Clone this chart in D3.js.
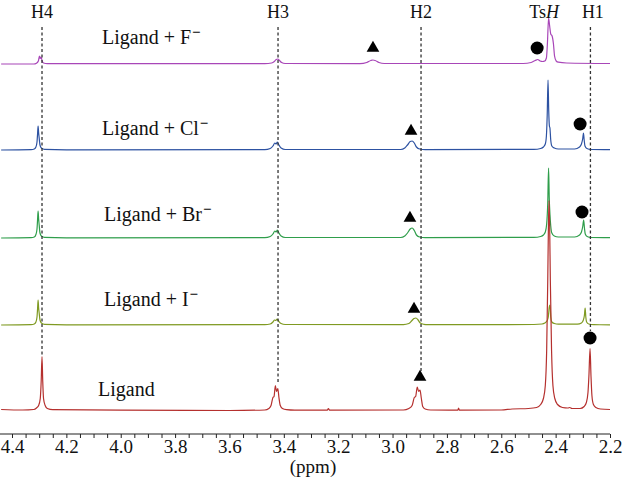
<!DOCTYPE html>
<html><head><meta charset="utf-8">
<script src="https://cdn.jsdelivr.net/npm/d3@7"></script>
<style>
body{margin:0;background:#fff}
svg{display:block;font-family:"Liberation Serif","Times New Roman",serif}
</style>
</head><body>
<svg id="c" width="626" height="479"></svg>
<script>
// ---------- data ----------
const seriesNames = ["Ligand + F", "Ligand + Cl", "Ligand + Br", "Ligand + I", "Ligand"];
const seriesCharge = [true, true, true, true, false];
const seriesColors = ["#a846b8", "#2d52a2", "#2f9e4b", "#7f9a22", "#b5302e"];

// [ppm, intensity (a.u.)]
const specF = [[4.44,0],[4.32,0],[4.31,0.8],[4.303,3],[4.299,8],[4.296,5.5],[4.293,7],[4.289,3],[4.284,1],[4.27,0.3],
 [3.47,0.3],[3.445,1],[3.435,2.5],[3.428,4.5],[3.422,5],[3.416,3.5],[3.408,1.5],[3.395,0.5],
 [3.12,0.3],[3.095,1.5],[3.08,3.5],[3.072,4],[3.064,3.5],[3.05,1.5],[3.03,0.5],
 [2.52,0.5],[2.49,1.5],[2.475,3.5],[2.466,4.5],[2.457,3],[2.448,2.5],[2.44,3],[2.434,6],[2.430,22],[2.426,46],[2.422,38],
 [2.418,30],[2.413,28],[2.408,20],[2.404,8],[2.398,3],[2.39,1.8],[2.36,1],[2.2,0.5]];
const specCl = [[4.44,0],[4.33,0.3],[4.318,1],[4.312,3],[4.308,8],[4.306,16],[4.304,24],[4.302,17],[4.300,12],[4.297,5],[4.292,2],[4.28,0.6],[4.2,0.2],
 [3.47,0.3],[3.45,1.5],[3.44,4],[3.433,7],[3.428,6],[3.424,8],[3.418,5],[3.41,2],[3.395,0.5],
 [2.97,0.5],[2.955,2],[2.945,5],[2.935,8.5],[2.928,9],[2.92,7],[2.912,3],[2.9,1],[2.88,0.4],
 [2.48,0.6],[2.455,1.5],[2.445,3],[2.438,6],[2.434,14],[2.431,35],[2.428,70],[2.4255,40],[2.423,24],[2.421,22],[2.418,10],[2.414,4],[2.405,2],[2.39,1],
 [2.33,1],[2.312,3],[2.305,6],[2.300,12],[2.2976,17],[2.295,10],[2.292,4],[2.285,1.5],[2.27,0.5],[2.2,0.3]];
const specBr = [[4.44,0],[4.33,0.3],[4.318,1],[4.312,3.5],[4.308,9],[4.306,18],[4.304,27],[4.302,19],[4.300,13],[4.297,5],[4.292,2],[4.28,0.6],[4.2,0.2],
 [3.47,0.3],[3.45,1.5],[3.44,4],[3.433,7],[3.428,6],[3.424,8],[3.418,5],[3.41,2],[3.395,0.5],
 [2.97,0.5],[2.955,2],[2.945,5],[2.935,9],[2.928,10],[2.92,7.5],[2.912,3],[2.9,1],[2.88,0.4],
 [2.48,0.6],[2.455,1.5],[2.445,3],[2.438,6],[2.433,14],[2.429,35],[2.426,70],[2.4235,40],[2.421,24],[2.418,12],[2.414,5],[2.405,2],[2.39,1],
 [2.33,1],[2.312,3],[2.305,6],[2.300,12],[2.297,18],[2.294,10],[2.291,4],[2.284,1.5],[2.27,0.5],[2.2,0.3]];
const specI = [[4.44,0],[4.33,0.3],[4.318,1],[4.312,3],[4.308,8],[4.306,16],[4.304,25],[4.302,17],[4.300,12],[4.297,5],[4.292,2],[4.28,0.6],[4.2,0.2],
 [3.47,0.3],[3.45,1],[3.44,3],[3.434,5],[3.429,4.5],[3.425,6],[3.418,3.5],[3.41,1.5],[3.395,0.5],
 [2.96,0.4],[2.94,1.5],[2.93,4],[2.921,6.5],[2.914,7],[2.906,5],[2.898,2],[2.885,0.7],[2.87,0.3],
 [2.48,0.5],[2.45,1],[2.44,2],[2.432,4],[2.427,8],[2.4235,18],[2.4206,20],[2.418,8],[2.414,3],[2.405,1.5],[2.39,0.8],
 [2.32,0.8],[2.305,2],[2.298,5],[2.294,10],[2.2915,17],[2.289,8],[2.286,3],[2.278,1],[2.26,0.3],[2.2,0.2]];
const specLigand = [[4.44,1],[4.36,0.5],[4.32,1],[4.31,2.5],[4.302,5],[4.296,12],[4.2925,30],[4.2896,54],[4.287,30],[4.284,12],[4.278,5],[4.27,2],[4.25,0.8],[4.0,0.3],[3.6,0],
 [3.47,0.5],[3.455,2],[3.447,5],[3.440,13],[3.436,14],[3.431,25],[3.427,19],[3.422,22],[3.418,13],[3.413,5],[3.405,2],[3.39,0.8],[3.36,0.3],
 [3.24,0.3],[3.236,2],[3.232,0.3],
 [2.96,0.5],[2.94,2],[2.928,5],[2.920,13],[2.915,14],[2.909,23.5],[2.904,19],[2.899,20.5],[2.894,12],[2.889,4],[2.88,1.5],[2.86,0.5],
 [2.76,0.3],[2.757,2.5],[2.754,0.3],[2.6,0.5],[2.56,1.5],[2.5,2],
 [2.47,3],[2.455,6],[2.445,12],[2.438,25],[2.433,60],[2.429,130],[2.4265,185],[2.4243,210],[2.422,185],[2.4195,130],[2.415,60],[2.41,25],[2.403,12],[2.393,6],[2.375,3],
 [2.355,2.5],[2.348,3],[2.34,2],[2.31,2],[2.295,4],[2.287,8],[2.281,18],[2.2775,35],[2.2734,62],[2.270,35],[2.2665,15],[2.261,6],[2.252,3],[2.235,1.5],[2.2,1]];
const spectra = [specF, specCl, specBr, specI, specLigand];

// assignment guides
const guideLabels = ["H4", "H3", "H2", "H1"];
const guidePpm = [4.2896, 3.4213, 2.8952, 2.2720];
const guideLabelPpm = [4.2896, 3.4213, 2.8952, 2.2630];
const guideEndIntensity = [53.5, 28.5, 39.5, 79.5]; // on the Ligand trace
const tsHLabelPpm = 2.4427;

// peak markers: series index, type, ppm, height above that baseline (a.u.)
const markerSeries = [0, 0, 1, 1, 2, 2, 3, 4, 4];
const markerType   = ["tri","dot","tri","dot","tri","dot","tri","tri","dot"];
const markerPpm    = [3.072, 2.468, 2.932, 2.310, 2.936, 2.303, 2.921, 2.899, 2.2734];
const markerHeight = [16, 16, 19, 26, 20, 26, 16, 33.5, 72.5];

const tickValues = [4.4, 4.2, 4.0, 3.8, 3.6, 3.4, 3.2, 3.0, 2.8, 2.6, 2.4, 2.2];
const tickLabels = ["4.4","4.2","4.0","3.8","3.6","3.4","3.2","3.0","2.8","2.6","2.4","2.2"];
const axisTitle = "(ppm)";

// ---------- layout ----------
const W = 626, H = 479;
const baselines = [64, 150, 238, 325, 410.5];
const labelPos = [[102, 44], [102, 135], [104, 221], [104, 306], [98, 396]];
const axisY = 434;

const svg = d3.select("#c");
const x = d3.scaleLinear().domain([4.4, 2.2]).range([12, 610]);
const yUnit = d3.scaleLinear().domain([0, 100]).range([0, -100]);

// spectra
spectra.forEach((spec, i) => {
  const line = d3.line()
    .x(d => x(d[0]))
    .y(d => baselines[i] + yUnit(d[1]))
    .curve(d3.curveMonotoneX);
  svg.append("path").datum(spec)
    .attr("d", line)
    .attr("fill", "none")
    .attr("stroke", seriesColors[i])
    .attr("stroke-width", 1.2)
    .attr("stroke-linejoin", "round");
});

// guides
guidePpm.forEach((p, i) => {
  svg.append("line")
    .attr("x1", x(p)).attr("x2", x(p))
    .attr("y1", 27).attr("y2", baselines[4] + yUnit(guideEndIntensity[i]))
    .attr("stroke", "#333").attr("stroke-width", 1.3)
    .attr("stroke-dasharray", "3,2.5");
  svg.append("text")
    .attr("x", x(guideLabelPpm[i])).attr("y", 18)
    .attr("text-anchor", "middle")
    .attr("font-size", 18).attr("fill", "#111")
    .text(guideLabels[i]);
});
const ts = svg.append("text").attr("x", x(tsHLabelPpm)).attr("y", 18)
  .attr("text-anchor", "middle").attr("font-size", 18).attr("fill", "#111");
ts.append("tspan").text("Ts");
ts.append("tspan").attr("font-style", "italic").text("H");

// series labels
seriesNames.forEach((n, i) => {
  const t = svg.append("text")
    .attr("x", labelPos[i][0]).attr("y", labelPos[i][1])
    .attr("font-size", 20).attr("fill", "#111");
  t.append("tspan").text(n);
  if (seriesCharge[i]) {
    t.append("tspan").attr("dy", -7).attr("dx", 1)
      .attr("font-size", 15).attr("font-weight", "bold").text("\u2212");
  }
});

// markers
markerPpm.forEach((p, i) => {
  const cx = x(p), cy = baselines[markerSeries[i]] + yUnit(markerHeight[i]);
  if (markerType[i] === "tri") {
    svg.append("path")
      .attr("d", d3.symbol(d3.symbolTriangle, 70)())
      .attr("transform", `translate(${cx},${cy})`)
      .attr("fill", "#000");
  } else {
    svg.append("circle").attr("cx", cx).attr("cy", cy).attr("r", 6.5).attr("fill", "#000");
  }
});

// axis
const minorTicks = d3.range(0, 45).map(k => +(4.4 - k * 0.05).toFixed(2));
const labelOf = v => {
  const idx = tickValues.findIndex(t => Math.abs(t - v) < 1e-6);
  return idx >= 0 ? tickLabels[idx] : "";
};
const ax = svg.append("g").attr("transform", `translate(0,${axisY})`)
  .call(d3.axisBottom(x).tickValues(minorTicks).tickSize(4).tickPadding(2).tickFormat(labelOf));
ax.select(".domain").attr("d", `M0,0H${x(2.2)}`).attr("stroke", "#222").attr("stroke-width", 1.2);
ax.selectAll(".tick line").attr("stroke", "#222");
ax.selectAll(".tick text").attr("font-size", 19).attr("fill", "#111")
  .attr("font-family", "'Liberation Serif','Times New Roman',serif");

svg.append("text").attr("x", 313).attr("y", 473)
  .attr("text-anchor", "middle").attr("font-size", 19).attr("fill", "#111")
  .text(axisTitle);
</script>
</body></html>
